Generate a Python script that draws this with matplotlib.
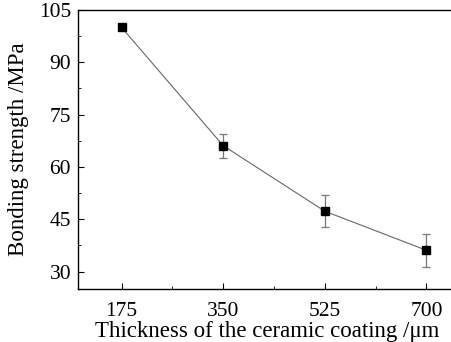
# Bonding strength vs. ceramic coating thickness

import matplotlib.pyplot as plt
from matplotlib.ticker import MultipleLocator

thickness = [175, 350, 525, 700]
strength = [100.0, 66.1, 47.3, 36.1]
strength_err = [0.0, 3.4, 4.6, 4.8]

plt.rcParams['font.family'] = ['Liberation Serif', 'DejaVu Serif']

fig = plt.figure(figsize=(4.51, 3.42), dpi=100)
ax = fig.add_axes([78 / 451, 1 - 289 / 342, 1 - 78 / 451 + 0.01, (289 - 10) / 342])

ax.errorbar(thickness, strength, yerr=strength_err, color='#666666', lw=0.8,
            ecolor='#777777', elinewidth=0.9, capsize=3, capthick=0.9,
            marker='s', ms=5.5, mfc='black', mec='black', zorder=3)

ax.set_xlim(100, 750)
ax.set_ylim(25, 105)
ax.set_xticks(thickness)
ax.set_yticks([30, 45, 60, 75, 90, 105])
ax.xaxis.set_minor_locator(MultipleLocator(87.5))
ax.yaxis.set_minor_locator(MultipleLocator(7.5))
ax.tick_params(which='both', direction='in', labelsize=15.5, top=False, right=False)
ax.tick_params(which='major', length=4)
ax.tick_params(which='minor', length=2.5)
ax.tick_params(axis='x', pad=9)
ax.tick_params(axis='y', pad=5)
ax.spines['right'].set_visible(False)
for s in ['left', 'bottom', 'top']:
    ax.spines[s].set_linewidth(1.0)

ax.set_xlabel('Thickness of the ceramic coating /\u03bcm', fontsize=16.5, labelpad=0)
ax.set_ylabel('Bonding strength /MPa', fontsize=16.5, labelpad=7)

fig.savefig('out.png', dpi=100)
